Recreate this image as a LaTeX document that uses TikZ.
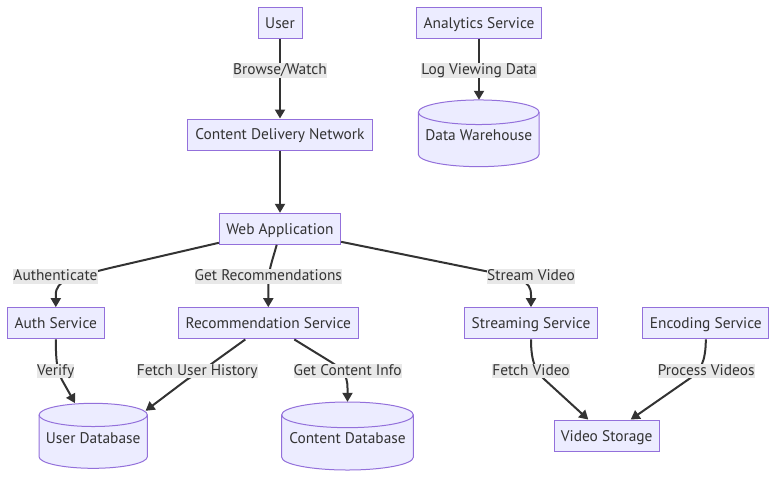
\documentclass[tikz,border=0pt]{standalone}
\usepackage{fontspec}
\setmainfont{PT Sans}
\usetikzlibrary{arrows.meta,calc}
\definecolor{nodefill}{HTML}{ECECFF}
\definecolor{nodeline}{HTML}{9370DB}
\definecolor{ink}{HTML}{333333}
\definecolor{lblbg}{HTML}{E8E8E8}
\newcommand{\dbcyl}[6]{%
  \pgfmathsetmacro{\cylrx}{#4/2}%
  \pgfmathsetmacro{\cylry}{\cylrx/(2.5+#4/50)}%
  \pgfmathsetmacro{\cylyt}{-(#3)+#5/2}%
  \pgfmathsetmacro{\cylyb}{-(#3)-#5/2}%
  \pgfmathsetmacro{\cylL}{#2-\cylrx}%
  \pgfmathsetmacro{\cylR}{#2+\cylrx}%
  \draw[dbline] (\cylL,\cylyt-\cylry) -- (\cylL,\cylyb+\cylry)
     arc[start angle=180,end angle=360,x radius=\cylrx pt,y radius=\cylry pt]
     -- (\cylR,\cylyt-\cylry)
     arc[start angle=0,end angle=180,x radius=\cylrx pt,y radius=\cylry pt] -- cycle;
  \draw[dbline,fill=none] (\cylL,\cylyt-\cylry)
     arc[start angle=180,end angle=360,x radius=\cylrx pt,y radius=\cylry pt];
  \node[dbnode,minimum width=#4pt,minimum height=#5pt] (#1) at (#2,-#3) {};
  \node[btext] (#1t) at (#2,-#3-2) {#6};
}
\begin{document}
\begin{tikzpicture}[x=1pt,y=1pt,
  font=\fontsize{15.4}{18}\selectfont,
  btext/.style={text=ink,inner sep=0pt,text height=10.6pt,text depth=0pt},
  box/.style={btext,draw=nodeline,fill=nodefill,line width=1pt,minimum height=31pt},
  dbnode/.style={inner sep=0pt,draw=none},
  dbline/.style={draw=nodeline,fill=nodefill,line width=1pt},
  lbl/.style={fill=lblbg,inner xsep=0pt,inner ysep=0pt,text height=11.4pt,text depth=3.4pt,text=ink},
  arr/.style={draw=ink,line width=2pt,-{Triangle[length=9pt,width=10pt]}}]
\useasboundingbox (0,0) rectangle (784,-483);

% nodes
\node[box,minimum width=44pt] (user) at (280,-22.8) {User};
\node[box,minimum width=125.7pt] (ana) at (479,-22.8) {Analytics Service};
\node[box,minimum width=185.3pt] (cdn) at (280,-134.5) {Content Delivery Network};
\node[box,minimum width=121.3pt] (web) at (280,-228.8) {Web Application};
\node[box,minimum width=97pt,minimum height=31.3pt] (auth) at (55.8,-323.3) {Auth Service};
\node[box,minimum width=180pt,minimum height=31.3pt] (rec) at (268.3,-323.3) {Recommendation Service};
\node[box,minimum width=133.3pt,minimum height=31.3pt] (stream) at (531,-323.3) {Streaming Service};
\node[box,minimum width=125.7pt,minimum height=31.3pt] (enc) at (705.8,-323.3) {Encoding Service};
\node[box,minimum width=105.3pt,minimum height=31.3pt] (vs) at (606.7,-435.7) {Video Storage};
\dbcyl{dw}{478.7}{133.3}{120.7}{66.7}{Data Warehouse}
\dbcyl{udb}{93.2}{435.8}{108.3}{65}{User Database}
\dbcyl{cdb}{347.5}{436}{131.7}{68}{Content Database}

% edges
\draw[arr] (user) -- (cdn);
\draw[arr] (ana.south) -- (ana.south |- dw.north);
\draw[arr] (cdn) -- (web);
\draw[arr] ($(web.south west)+(0,2)$) -- (110,-268) .. controls (70,-278) and (55.8,-280) .. (55.8,-295) -- (auth.north);
\draw[arr] ($(web.south)+(-3.3,0)$) .. controls (272,-262) and (268.3,-270) .. (268.3,-285) -- (rec.north);
\draw[arr] ($(web.south east)+(0,3)$) -- (480,-270) .. controls (520,-278) and (531,-280) .. (531,-295) -- (stream.north);
\draw[arr] (auth.south) .. controls (55.8,-365) and (58,-372) .. (62,-380) -- ($(udb.north)+(-18.2,0)$);
\draw[arr] ($(rec.south)+(-23,0)$) -- (214,-362) .. controls (205,-369) and (196,-374) .. (187,-379.5) -- ($(udb.north east)+(-2,-7.7)$);
\draw[arr] ($(rec.south)+(26,0)$) -- (331,-362) .. controls (342,-369) and (347.5,-375) .. (347.5,-388) -- (cdb.north);
\draw[arr] (stream.south) .. controls (531,-362) and (536,-372) .. (544,-379) -- ($(vs.north)+(-18.4,0)$);
\draw[arr] (enc.south) .. controls (705.8,-362) and (700,-372) .. (689,-379) -- ($(vs.north)+(24,0)$);

% labels
\node[lbl] (l1) at (280,-70.5) {Browse/Watch};
\node[lbl] (l2) at (479,-70.5) {Log Viewing Data};
\node[lbl] (l3) at (55.5,-276.5) {Authenticate};
\node[lbl] (l4) at (268.3,-276.5) {Get Recommendations};
\node[lbl] (l5) at (531,-276.5) {Stream Video};
\node[lbl] (l6) at (55.7,-371) {Verify};
\node[lbl] (l7) at (197.2,-371) {Fetch User History};
\node[lbl] (l8) at (347.7,-371) {Get Content Info};
\node[lbl] (l9) at (531,-371) {Fetch Video};
\node[lbl] (l10) at (706.2,-371) {Process Videos};
\end{tikzpicture}
\end{document}
